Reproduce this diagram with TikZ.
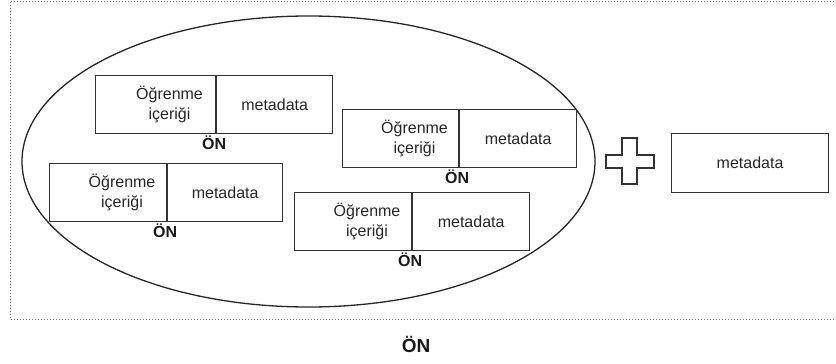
\documentclass[tikz,border=0pt]{standalone}
\usepackage{fontspec}
\setmainfont{Liberation Sans}
\usetikzlibrary{shapes.geometric}
\begin{document}
\begin{tikzpicture}[x=1pt,y=-1pt,
  cell/.style={draw=black!80, line width=1.1pt, minimum height=58pt, inner sep=0pt, anchor=north west,
    font=\fontsize{16}{20}\selectfont, text=black!85},
  txt/.style={font=\fontsize{16}{20}\selectfont, text=black!85, align=center, inner sep=0pt},
  onlab/.style={font=\bfseries\fontsize{16}{16}\selectfont, text=black!90, inner sep=0pt}]
\useasboundingbox (0,0) rectangle (836,364);

% dotted frame, open on the right
\draw[black!55, dotted, line width=1pt] (840,1) -| (10,319) -- (840,319);

% the group ellipse
\node[draw=black!85, line width=1.3pt, ellipse, minimum width=573pt, minimum height=291pt, inner sep=0pt]
  (group) at (308.5,161.5) {};

% learning objects: content cell + metadata cell, label under the divider
\foreach \nm/\x/\y/\lw/\rw in {b1/95/75/120/116, b2/342/109/116/117, b3/49/163/117/115, b4/294/192/117/117} {
  \node[cell, minimum width=\lw pt] (\nm l) at (\x,\y) {};
  \node[cell, minimum width=\rw pt] (\nm r) at (\nm l.north east) {metadata};
  \node[txt] (\nm t) at ([xshift=14pt]\nm l.center) {Öğrenme\\içeriği};
  \node[onlab, anchor=north] (\nm o) at ([xshift=-2pt, yshift=-1.5pt]\nm l.south east) {ÖN};
}

% plus sign
\draw[line width=1.1pt, black!80, fill=white]
  (622,138) -- (637,138) -- (637,155) -- (654,155) -- (654,168) -- (637,168) -- (637,184)
  -- (622,184) -- (622,168) -- (606,168) -- (606,155) -- (622,155) -- cycle;

% extra metadata
\node[cell, minimum width=157pt, minimum height=59pt] (meta) at (671,133) {metadata};

% caption
\node[onlab, font=\bfseries\fontsize{19}{19}\selectfont] (title) at (416,344) {ÖN};
\end{tikzpicture}
\end{document}
